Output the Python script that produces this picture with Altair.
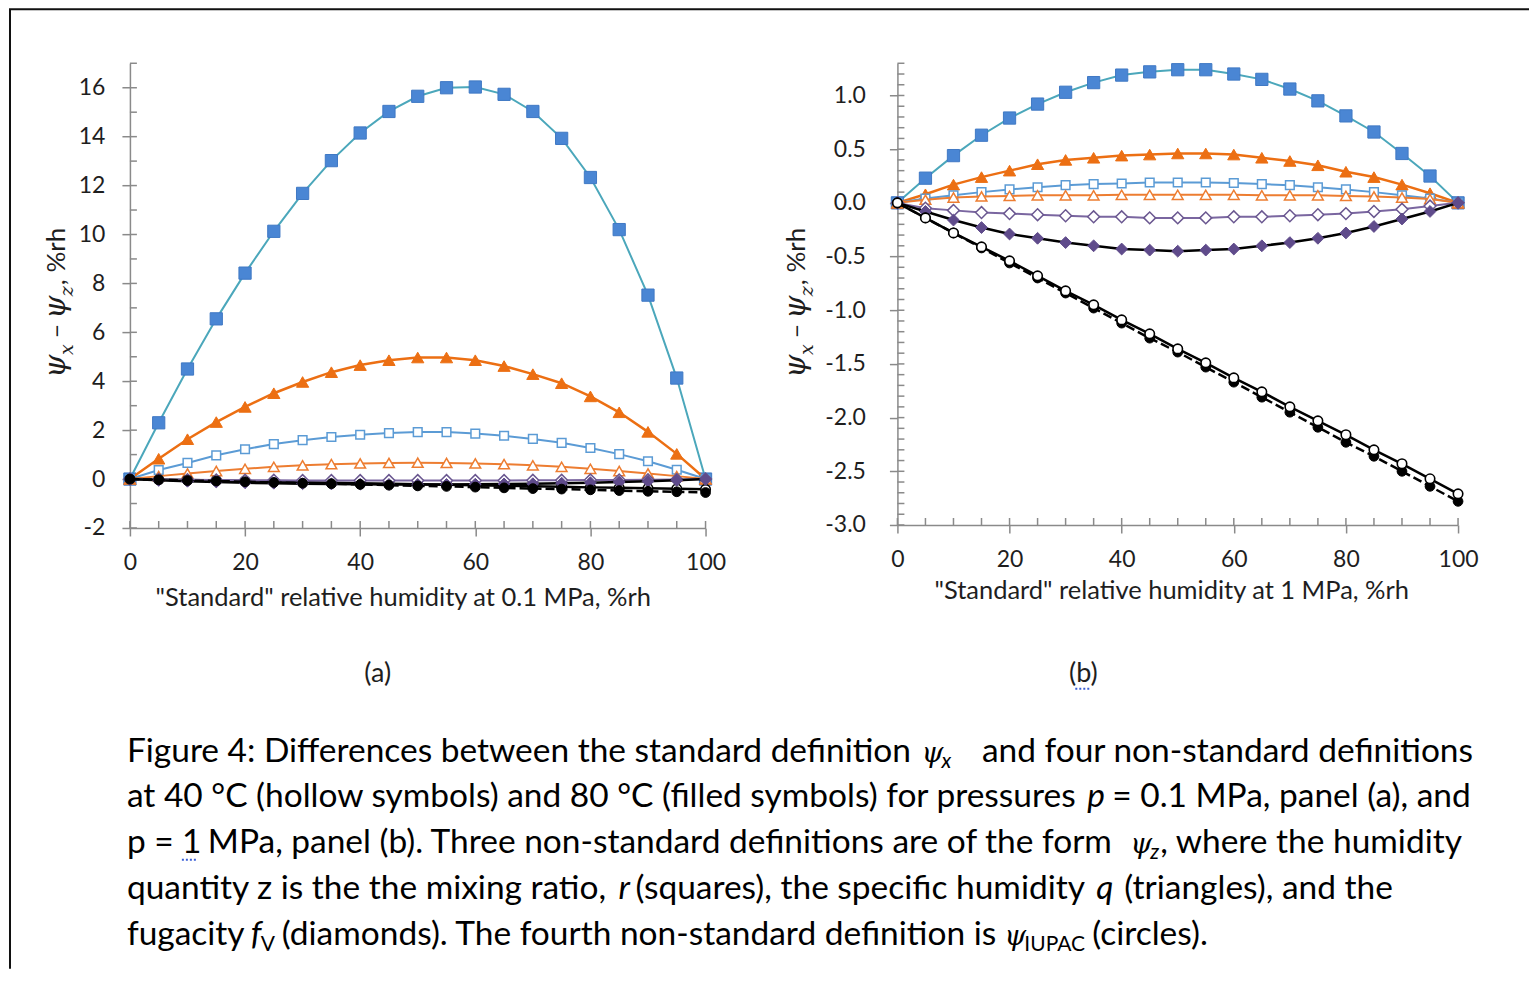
import altair as alt
import pandas as pd

# ---------------- data ----------------
RH = [0, 5, 10, 15, 20, 25, 30, 35, 40, 45, 50, 55, 60, 65, 70, 75, 80, 85, 90, 95, 100]

# panel (a): p = 0.1 MPa
A_R80 = [0, 2.3, 4.5, 6.55, 8.42, 10.13, 11.68, 13.02, 14.15, 15.03, 15.65, 16.0, 16.03, 15.73, 15.03, 13.93, 12.33, 10.2, 7.52, 4.13, 0]
A_Q80 = [0, 0.83, 1.63, 2.33, 2.95, 3.51, 3.97, 4.37, 4.66, 4.86, 4.97, 4.97, 4.86, 4.62, 4.29, 3.92, 3.38, 2.73, 1.93, 1.03, 0]
A_R40 = [0, 0.37, 0.66, 0.97, 1.22, 1.43, 1.59, 1.72, 1.81, 1.88, 1.92, 1.92, 1.86, 1.77, 1.64, 1.48, 1.27, 1.02, 0.73, 0.38, 0]
A_Q40 = [0, 0.12, 0.23, 0.33, 0.42, 0.5, 0.56, 0.61, 0.64, 0.66, 0.67, 0.66, 0.64, 0.61, 0.56, 0.5, 0.42, 0.33, 0.23, 0.12, 0]
A_F40 = [0, -0.02, -0.03, -0.04, -0.05, -0.05, -0.06, -0.06, -0.06, -0.06, -0.06, -0.06, -0.06, -0.06, -0.05, -0.05, -0.04, -0.04, -0.03, -0.02, 0]
A_F80 = [0, -0.05, -0.09, -0.12, -0.15, -0.17, -0.19, -0.2, -0.21, -0.22, -0.22, -0.22, -0.21, -0.2, -0.19, -0.17, -0.15, -0.12, -0.09, -0.05, 0]
A_I40 = [0, -0.02, -0.04, -0.06, -0.08, -0.1, -0.13, -0.15, -0.17, -0.19, -0.21, -0.23, -0.25, -0.27, -0.29, -0.31, -0.34, -0.36, -0.38, -0.4, -0.42]
A_I80 = [0, -0.03, -0.06, -0.08, -0.11, -0.14, -0.17, -0.19, -0.22, -0.25, -0.28, -0.3, -0.33, -0.36, -0.39, -0.41, -0.44, -0.47, -0.5, -0.52, -0.55]

# panel (b): p = 1 MPa
B_R80 = [0, 0.23, 0.44, 0.63, 0.79, 0.92, 1.03, 1.12, 1.19, 1.22, 1.24, 1.24, 1.2, 1.15, 1.06, 0.95, 0.81, 0.66, 0.46, 0.25, 0]
B_Q80 = [0, 0.08, 0.17, 0.24, 0.3, 0.36, 0.4, 0.42, 0.44, 0.45, 0.46, 0.46, 0.45, 0.42, 0.39, 0.35, 0.29, 0.24, 0.17, 0.09, 0]
B_R40 = [0, 0.04, 0.07, 0.1, 0.125, 0.145, 0.165, 0.175, 0.18, 0.19, 0.19, 0.19, 0.185, 0.175, 0.165, 0.145, 0.125, 0.1, 0.07, 0.04, 0]
B_Q40 = [0, 0.03, 0.05, 0.06, 0.065, 0.07, 0.07, 0.07, 0.075, 0.075, 0.075, 0.075, 0.075, 0.07, 0.07, 0.07, 0.065, 0.06, 0.05, 0.035, 0]
B_F40 = [0, -0.05, -0.07, -0.09, -0.1, -0.11, -0.12, -0.13, -0.13, -0.14, -0.14, -0.14, -0.13, -0.13, -0.12, -0.11, -0.1, -0.08, -0.06, -0.03, 0]
B_F80 = [0, -0.08, -0.16, -0.23, -0.29, -0.33, -0.37, -0.4, -0.43, -0.44, -0.45, -0.44, -0.43, -0.4, -0.37, -0.33, -0.28, -0.22, -0.15, -0.08, 0]
B_I40 = [0, -0.14, -0.28, -0.41, -0.54, -0.68, -0.82, -0.95, -1.09, -1.22, -1.36, -1.49, -1.63, -1.76, -1.9, -2.03, -2.16, -2.3, -2.43, -2.57, -2.71]
B_I80 = [0, -0.14, -0.28, -0.42, -0.56, -0.7, -0.84, -0.98, -1.12, -1.26, -1.39, -1.53, -1.67, -1.81, -1.95, -2.09, -2.23, -2.36, -2.5, -2.64, -2.78]

X_TICKS = [0, 20, 40, 60, 80, 100]
X_MINOR = [0, 5, 10, 15, 20, 25, 30, 35, 40, 45, 50, 55, 60, 65, 70, 75, 80, 85, 90, 95, 100]
A_Y_TICKS = [-2, 0, 2, 4, 6, 8, 10, 12, 14, 16]
A_Y_MINOR = [-2, -1, 0, 1, 2, 3, 4, 5, 6, 7, 8, 9, 10, 11, 12, 13, 14, 15, 16, 17]
B_Y_TICKS = [-3.0, -2.5, -2.0, -1.5, -1.0, -0.5, 0.0, 0.5, 1.0]
B_Y_MINOR = [round(-3.0 + 0.1 * i, 1) for i in range(44)]

A_SERIES = {"r80": A_R80, "q80": A_Q80, "r40": A_R40, "q40": A_Q40,
            "f40": A_F40, "f80": A_F80, "i40": A_I40, "i80": A_I80}
B_SERIES = {"r80": B_R80, "q80": B_Q80, "r40": B_R40, "q40": B_Q40,
            "f40": B_F40, "f80": B_F80, "i40": B_I40, "i80": B_I80}

# ---------------- styles ----------------
GRAY = "#8a8a8a"
TXT = "#1e1e1e"
FONT = "Lato"
PSI_FONT = "DejaVu Serif"
SQUIGGLE = "#3a5fd6"
STYLE = {
    "r80": dict(shape="square", fill="#4A86D4", stroke="#3F78C4", sw=1, size=150, line="#4BA7BB", lw=2),
    "q80": dict(shape="triangle-up", fill="#EC6F13", stroke="#EC6F13", sw=1, size=150, line="#EC6F13", lw=2.5),
    "r40": dict(shape="square", fill="white", stroke="#5B9BD5", sw=1.5, size=75, line="#5B9BD5", lw=2),
    "q40": dict(shape="triangle-up", fill="white", stroke="#ED7D31", sw=1.5, size=115, line="#ED7D31", lw=2),
    "f40": dict(shape="diamond", fill="white", stroke="#6A5790", sw=1.5, size=140, line="#7A66A0", lw=2),
    "f80": dict(shape="diamond", fill="#5F4B8B", stroke="#5F4B8B", sw=1, size=140, line="black", lw=2.5),
    "i80": dict(shape="circle", fill="black", stroke="black", sw=1, size=95, line="black", lw=2.5, dash=[9, 4]),
    "i40": dict(shape="circle", fill="white", stroke="black", sw=1.6, size=90, line="black", lw=2.5),
}


def long_df(series):
    rows = []
    for key, vals in series.items():
        for x, v in zip(RH, vals):
            rows.append({"rh": x, "val": v, "series": key})
    return pd.DataFrame(rows)


def x_axis(title, tpad, tx):
    return alt.Axis(values=X_TICKS, title=title, grid=False, tickSize=8, tickWidth=1.5,
                    tickColor=GRAY, domainColor=GRAY, domainWidth=1.5,
                    labelFont=FONT, labelFontSize=23, labelColor=TXT, labelPadding=16,
                    labelFlush=False, labelOverlap=False,
                    titleFont=FONT, titleFontSize=25.5, titleFontWeight="normal",
                    titleColor=TXT, titlePadding=tpad, titleX=tx, titleAlign="center",
                    titleAnchor="start")


def y_axis(values, fmt, pad):
    return alt.Axis(values=values, format=fmt, title=None, grid=False, tickSize=8, tickWidth=1.5,
                    tickColor=GRAY, domainColor=GRAY, domainWidth=1.5,
                    labelFont=FONT, labelFontSize=23, labelColor=TXT, labelPadding=pad,
                    labelOverlap=False, labelExpr="replace(datum.label, '\u2212', '-')")


ONE = alt.Data(values=[{"k": 1}])


def text_layer(txt, x, y, size=21, font=FONT, style="normal", align="left", angle=0,
               baseline="alphabetic", color=TXT):
    return alt.Chart(ONE).mark_text(
        text=txt, font=font, fontSize=size, fontStyle=style, align=align,
        baseline=baseline, angle=angle, color=color
    ).encode(x=alt.value(x), y=alt.value(y))


def ytitle_layers(bx):
    # psi_x - psi_z, %rh written bottom-to-top
    return [
        text_layer("\u03c8", bx, 315, size=30, font=PSI_FONT, style="italic", angle=270),
        text_layer("x", bx + 8, 292, size=19, font=PSI_FONT, style="italic", angle=270),
        text_layer("\u2212", bx, 275, size=24, angle=270),
        text_layer("\u03c8", bx, 256, size=30, font=PSI_FONT, style="italic", angle=270),
        text_layer("z", bx + 8, 233, size=19, font=PSI_FONT, style="italic", angle=270),
        text_layer(", %rh", bx, 222, size=26, angle=270),
    ]


def squiggle(x1, x2, y):
    # small blue spell-check underline
    return alt.Chart(ONE).mark_rule(color=SQUIGGLE, strokeWidth=2, strokeDash=[2, 2]) \
        .encode(x=alt.value(x1), x2=alt.value(x2), y=alt.value(y))


# ---------------- caption (page coordinates) ----------------
L = [761, 806, 852, 898, 944]
CAP = [
    ("Figure 4: Differences between the standard definition", 126, L[0], "txt", "left"),
    ("\u03c8", 921, L[0], "psi", "left"),
    ("x", 941, L[0] + 6, "sub", "left"),
    ("and four non-standard definitions", 1473, L[0], "txt", "right"),
    ("at 40 \u00b0C (hollow symbols) and 80 \u00b0C (filled symbols) for pressures", 126, L[1], "txt", "left"),
    ("p", 1087, L[1], "it", "left"),
    ("= 0.1 MPa, panel (a), and", 1112, L[1], "txt", "left"),
    ("p =", 126, L[2], "txt", "left"),
    ("1", 181, L[2], "txt", "left"),
    ("MPa, panel (b). Three non-standard definitions are of the form", 207, L[2], "txt", "left"),
    ("\u03c8", 1130, L[2], "psi", "left"),
    ("z", 1150, L[2] + 6, "sub", "left"),
    (", where the humidity", 1160, L[2], "txt", "left"),
    ("quantity z is the the mixing ratio,", 126, L[3], "txt", "left"),
    ("r", 618, L[3], "it", "left"),
    ("(squares), the specific humidity", 635, L[3], "txt", "left"),
    ("q", 1096, L[3], "it", "left"),
    ("(triangles), and the", 1124, L[3], "txt", "left"),
    ("fugacity", 126, L[4], "txt", "left"),
    ("f", 250, L[4], "it", "left"),
    ("V", 260, L[4] + 6, "subup", "left"),
    ("(diamonds). The fourth non-standard definition is", 281, L[4], "txt", "left"),
    ("\u03c8", 1004, L[4], "psi", "left"),
    ("IUPAC", 1024, L[4] + 6, "subup", "left"),
    ("(circles).", 1092, L[4], "txt", "left"),
]
KIND = {
    "txt": dict(size=33.5, font=FONT, style="normal"),
    "it": dict(size=33.5, font=FONT, style="italic"),
    "psi": dict(size=28, font=PSI_FONT, style="italic"),
    "sub": dict(size=21, font=FONT, style="italic"),
    "subup": dict(size=21, font=FONT, style="normal"),
}
OX, OY = 129, 62  # page position of panel (a) plot origin


def panel(series, order, width, height, ydom, yticks, yminor, yfmt, ypad, xtitle, tpad, tx,
          label, label_x, ytitle_x, extras=()):
    df = long_df(series)
    X = alt.X("rh:Q", scale=alt.Scale(domain=[0, 100], nice=False, zero=False),
              axis=x_axis(xtitle, tpad, tx))
    Y = alt.Y("val:Q", scale=alt.Scale(domain=ydom, nice=False, zero=False),
              axis=y_axis(yticks, yfmt, ypad))
    layers = []
    # inner halves of ticks (Excel-style crossing / inside minor ticks)
    layers.append(alt.Chart(pd.DataFrame({"val": yminor})).mark_rule(color=GRAY, strokeWidth=1.5)
                  .encode(y=Y, x=alt.value(0), x2=alt.value(7)))
    layers.append(alt.Chart(pd.DataFrame({"rh": X_MINOR})).mark_rule(color=GRAY, strokeWidth=1.5)
                  .encode(x=X, y=alt.value(height - 7), y2=alt.value(height)))
    for key in order:
        st = STYLE[key]
        base = alt.Chart(df).transform_filter(alt.datum.series == key)
        lkw = dict(color=st["line"], strokeWidth=st["lw"])
        if "dash" in st:
            lkw["strokeDash"] = st["dash"]
        layers.append(base.mark_line(**lkw).encode(x=X, y=Y))
        layers.append(base.mark_point(shape=st["shape"], filled=True, fill=st["fill"],
                                      stroke=st["stroke"], strokeWidth=st["sw"],
                                      size=st["size"], opacity=1).encode(x=X, y=Y))
    layers += ytitle_layers(ytitle_x)
    layers.append(text_layer(label, label_x, 611, size=27, align="center", baseline="middle"))
    layers += list(extras)
    return alt.layer(*layers).properties(width=width, height=height)


extras_a = [
    # page frame (top and left edges)
    alt.Chart(ONE).mark_rule(color="#111", strokeWidth=2)
    .encode(x=alt.value(-121), x2=alt.value(1400), y=alt.value(-54)),
    alt.Chart(ONE).mark_rule(color="#111", strokeWidth=2)
    .encode(x=alt.value(-120), y=alt.value(-54), y2=alt.value(906)),
]
extras_a += [text_layer(t, x - OX, y - OY, align=a, color="black", **KIND[k]) for t, x, y, k, a in CAP]
extras_a.append(squiggle(181 - OX, 197 - OX, 859 - OY))

panel_a = panel(A_SERIES, ["r80", "q80", "r40", "q40", "i40", "f40", "f80", "i80"],
                576, 465, [-2, 17], A_Y_TICKS, A_Y_MINOR, "d", 17,
                '"Standard" relative humidity at 0.1 MPa, %rh', 11, 273, "(a)", 248, -65, extras_a)
panel_b = panel(B_SERIES, ["r80", "q80", "r40", "q40", "f40", "f80", "i80", "i40"],
                561, 462, [-3, 1.3], B_Y_TICKS, B_Y_MINOR, ".1f", 24,
                '"Standard" relative humidity at 1 MPa, %rh', 7, 274, "(b)", 186, -92,
                [squiggle(1075 - 897, 1091 - 897, 688 - 62)])

chart = alt.HConcatChart(hconcat=[panel_a, panel_b], spacing=192, bounds="flush") \
    .properties(padding=0, background="white") \
    .configure_view(stroke=None)

chart.save("out.html", embed_options={"renderer": "svg", "actions": False})
